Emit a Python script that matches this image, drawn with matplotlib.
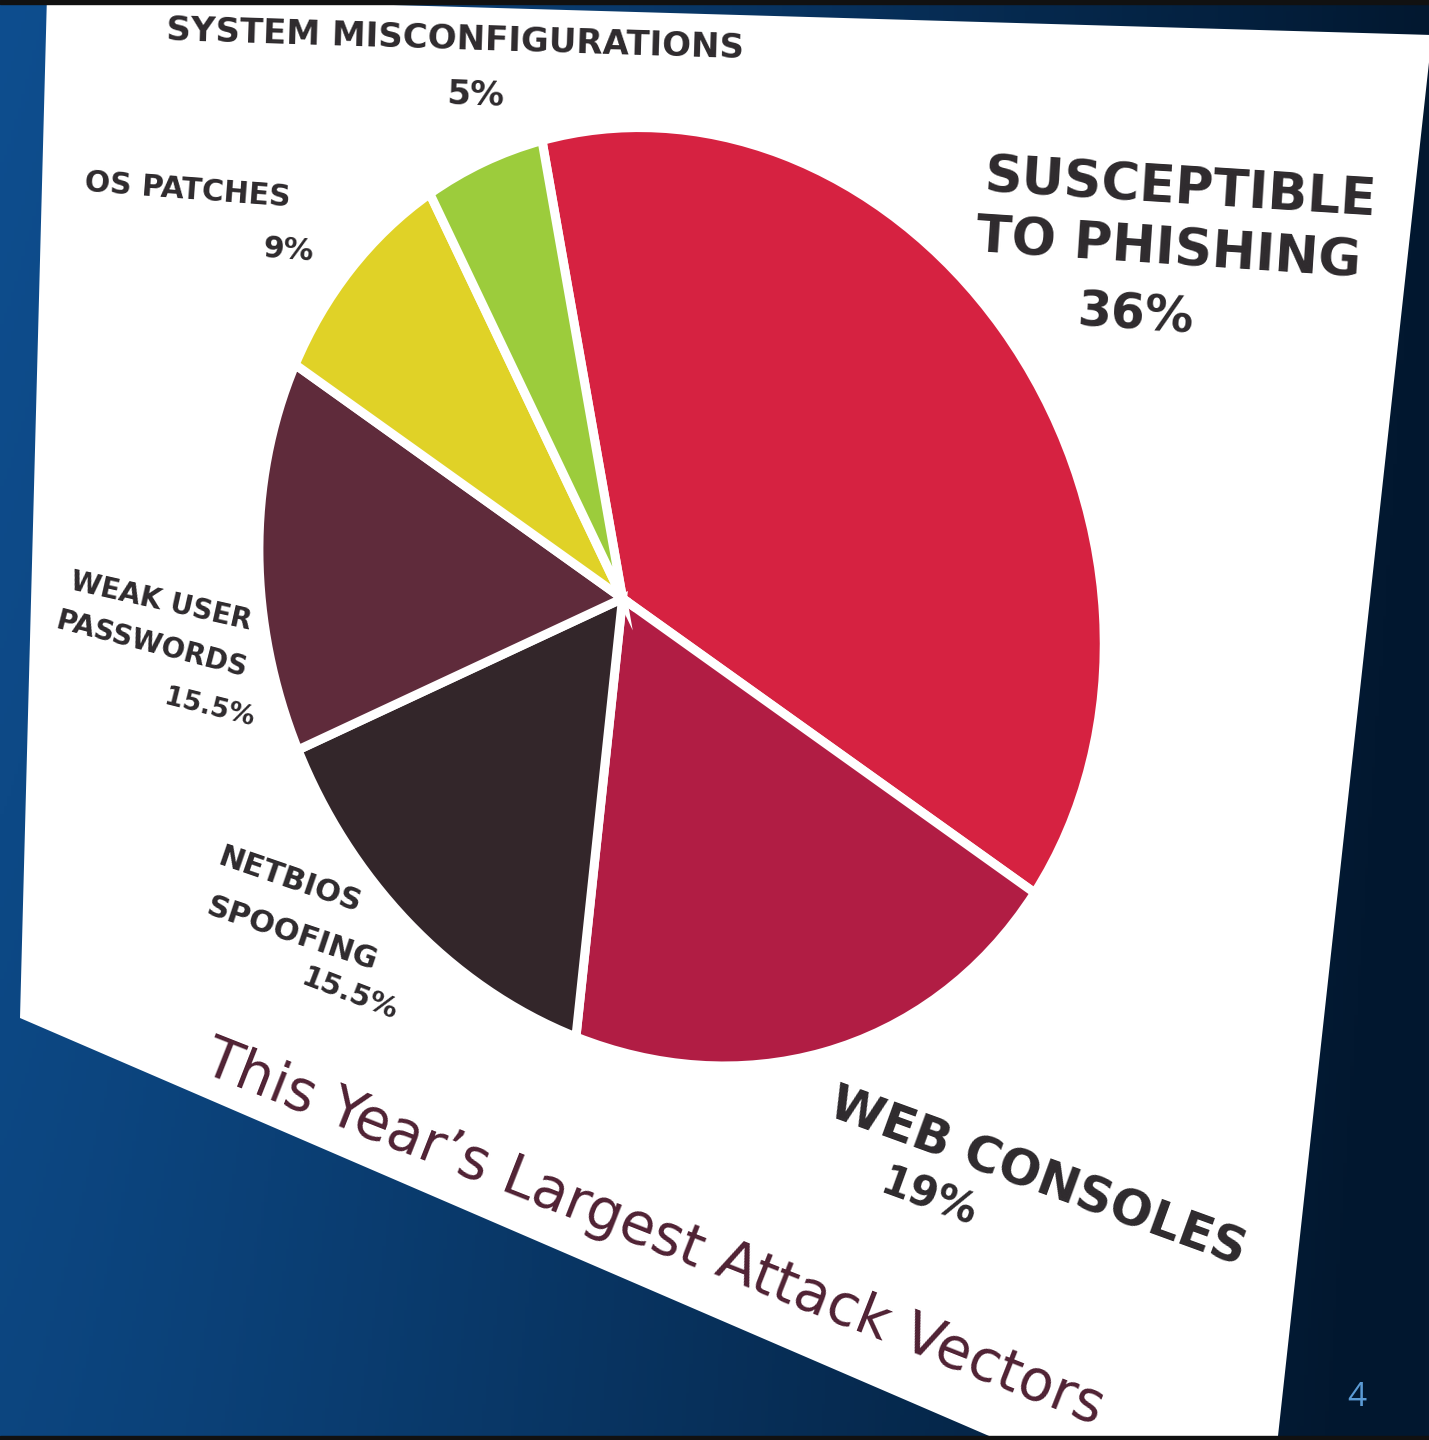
import numpy as np
import matplotlib
matplotlib.use('Agg')
import matplotlib.pyplot as plt
import matplotlib.transforms as mtransforms
from matplotlib.path import Path
from matplotlib.patches import Polygon

## Data
categories = ['SUSCEPTIBLE TO PHISHING', 'WEB CONSOLES', 'NETBIOS SPOOFING',
              'WEAK USER PASSWORDS', 'OS PATCHES', 'SYSTEM MISCONFIGURATIONS']
values = [36, 19, 15.5, 15.5, 9, 5]
pct_labels = ['36%', '19%', '15.5%', '15.5%', '9%', '5%']
colors = ['#d62241', '#b11d44', '#33262a', '#5f2b3b', '#e0d227', '#9ccc3c']
title = 'This Year\u2019s Largest Attack Vectors'
page_no = '4'

## Layout of the photographed slide (pixel coords, y down)
W, H = 1429, 1440
R = 500
page_corners = [(47, -5), (1432, 35), (1277, 1445), (1010, 1445), (20, 1018)]
# where the pie centre and slice borders landed on the photo
pie_apex = (620, 598)
pie_edges = [(543, 140), (1034, 893), (578, 1038), (298, 748), (293, 367), (432, 193)]


class Persp(mtransforms.Transform):
    """Projective (homography) transform, used to tilt the pie like the photo."""
    input_dims = output_dims = 2

    def __init__(self, m):
        super().__init__()
        self.m = m

    def transform_non_affine(self, pts):
        pts = np.atleast_2d(np.asarray(pts, float))
        q = np.column_stack([pts, np.ones(len(pts))]) @ self.m.T
        return q[:, :2] / q[:, 2:]

    def transform_path_non_affine(self, path):
        polys = [Path(self.transform_non_affine(p), closed=True)
                 for p in path.to_polygons(closed_only=True)]
        return Path.make_compound_path(*polys)


def fit_homography(src, dst):
    src = np.asarray(src, float) / R
    dst = (np.asarray(dst, float) - 700.0) / 500.0
    rows = []
    for (u, v), (x, y) in zip(src, dst):
        rows.append([-u, -v, -1, 0, 0, 0, u * x, v * x, x])
        rows.append([0, 0, 0, -u, -v, -1, u * y, v * y, y])
    _, _, vt = np.linalg.svd(np.array(rows))
    h = vt[-1].reshape(3, 3)
    t_inv = np.array([[500, 0, 700], [0, 500, 700], [0, 0, 1.0]])
    s = np.diag([1 / R, 1 / R, 1.0])
    m = t_inv @ h @ s
    return m / m[2, 2]


def slice_borders(start):
    bounds = start - np.concatenate([[0], np.cumsum(values)[:-1]]) * 3.6
    pts = [(0, 0)] + [(R * np.cos(np.radians(a)), R * np.sin(np.radians(a))) for a in bounds]
    return np.array(pts)


# pick the start angle that lets one homography fit the photo best
dst = np.array([pie_apex] + pie_edges, float)
best = None
for start in np.arange(0, 360, 0.5):
    src = slice_borders(start)
    m = fit_homography(src, dst)
    err = np.abs(Persp(m).transform_non_affine(src) - dst).sum()
    if best is None or err < best[0]:
        best = (err, start, m)
_, start_angle, hom = best

## Figure
fig = plt.figure(figsize=(W / 100, H / 100), dpi=100)
ax = fig.add_axes([0, 0, 1, 1])

# blue gradient background
gx, gy = np.meshgrid(np.linspace(0, 1, 400), np.linspace(0, 1, 400))
left = np.array([0x0e, 0x4e, 0x8f]) / 255
right = np.array([0x02, 0x18, 0x30]) / 255
t = np.clip(gx ** 1.15 + 0.08 * gy, 0, 1)[..., None]
bg = left * (1 - t) + right * t
bg *= (1 - 0.06 * gy[..., None] * (1 - gx[..., None]))
ax.imshow(bg, extent=(0, W, H, 0), aspect='auto', zorder=0)
ax.axhspan(0, 4, color='#111111', zorder=5)
ax.axhspan(H - 4, H, color='#111111', zorder=5)

page = Polygon(page_corners, closed=True, facecolor='white', edgecolor='none', zorder=1)
ax.add_patch(page)

wedges, _ = ax.pie(values, colors=colors, startangle=start_angle, counterclock=False,
                   radius=R, wedgeprops=dict(edgecolor='white', linewidth=6.5))
for w in wedges:
    w.set_transform(Persp(hom) + ax.transData)
    w.set_zorder(2)

ax.set_aspect('auto')
ax.set_xlim(0, W)
ax.set_ylim(H, 0)
ax.axis('off')

lab = dict(family='DejaVu Sans', weight='bold', color='#2e2a2d', ha='center', va='center',
           rotation_mode='anchor', zorder=3)

# label lines: (text, x, y, rotation, size)
label_lines = [
    (categories[5], 455, 40, -1.8, 24.5),
    (pct_labels[5], 476, 96, -2, 24.5),
    (categories[4], 188, 190, -4.3, 21.5),
    (pct_labels[4], 288, 250, -4.3, 21.5),
    ('SUSCEPTIBLE', 1180, 190, -3.6, 37.5),
    ('TO PHISHING', 1168, 250, -3.8, 37.5),
    (pct_labels[0], 1136, 315, -3.8, 35),
    (categories[1], 1038, 1178, -20, 35.5),
    (pct_labels[1], 928, 1198, -20, 30),
    ('NETBIOS', 290, 880, -19, 22),
    ('SPOOFING', 292, 934, -18.5, 22),
    (pct_labels[2], 350, 995, -21, 21),
    ('WEAK USER', 161, 602, -12.7, 20),
    ('PASSWORDS', 152, 645, -14.5, 20),
    (pct_labels[3], 209, 708, -14, 19),
]
for txt, x, y, rot, size in label_lines:
    ax.text(x, y, txt, rotation=rot, fontsize=size, **lab)

ttl = ax.text(200, 1072, title, family='DejaVu Sans', color='#4f2133', fontsize=41,
              ha='left', va='baseline', rotation=-21.5, rotation_mode='anchor', zorder=3)
ttl.set_clip_path(page)

ax.text(1357, 1398, page_no, family='Open Sans', color='#5b9bd5', fontsize=24,
        ha='center', va='center', zorder=6)

fig.savefig('out.png', dpi=100)
